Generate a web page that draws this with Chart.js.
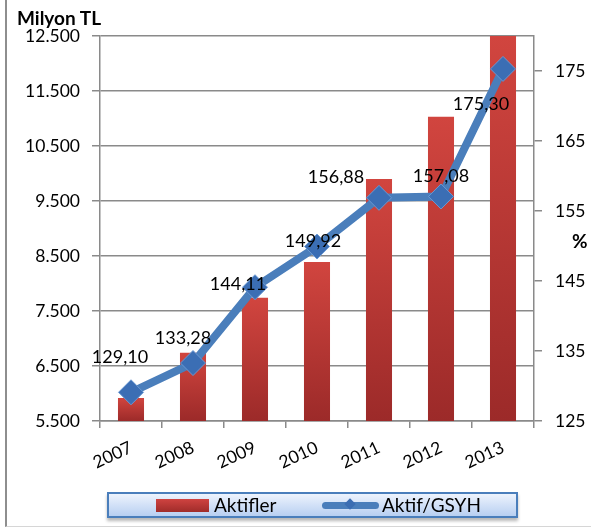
<!DOCTYPE html>
<html><head><meta charset="utf-8">
<script src="https://cdn.jsdelivr.net/npm/chart.js@4/dist/chart.umd.min.js"></script>
<style>
html,body{margin:0;padding:0;background:#fff;}
#wrap{position:relative;width:591px;height:528px;overflow:hidden;font-family:Lato,"Open Sans",sans-serif;}
#frame{position:absolute;left:5px;top:-2px;width:640px;height:529px;border-left:2px solid #8e8e8e;border-bottom:1px solid #d6d6d6;box-sizing:border-box;}
canvas{position:absolute;left:0;top:0;}
.t{position:absolute;font-weight:bold;color:#000;font-size:19px;line-height:1;white-space:nowrap;}
#legend{position:absolute;left:107px;top:492px;width:411px;height:26px;box-sizing:border-box;border:2px solid #4a7ebb;background:linear-gradient(#edf3fd,#b8cff1);box-shadow:0 3px 3px rgba(0,0,0,0.28);}
.lt{position:absolute;top:492px;height:26px;line-height:26px;font-size:19px;color:#000;white-space:nowrap;}
#sw1{position:absolute;left:156px;top:499px;width:53px;height:13px;background:linear-gradient(#cf4340,#a02c2a);}
#sw2{position:absolute;left:322px;top:502px;width:57px;height:7px;border-radius:4px;background:#4a7ebb;}
#sw2d{position:absolute;left:346px;top:500px;width:8px;height:8px;transform:rotate(45deg);background:#3b6db2;}
</style></head>
<body>
<div id="wrap">
  <div id="frame"></div>
  <canvas id="c" width="591" height="528"></canvas>
  <div class="t" style="left:17px;top:8px;">Milyon TL</div>
  <div class="t" style="left:572px;top:231px;">%</div>
  <div id="legend"></div>
  <div id="sw1"></div>
  <div class="lt" style="left:214px;">Aktifler</div>
  <div id="sw2"></div>
  <div id="sw2d"></div>
  <div class="lt" style="left:382px;">Aktif/GSYH</div>
</div>
<script>
const years = ['2007','2008','2009','2010','2011','2012','2013'];
const aktifler = [5920, 6740, 7740, 8390, 9900, 11030, 12800];
const aktifGsyh = [129.10, 133.28, 144.11, 149.92, 156.88, 157.08, 175.30];
const leftTicks = [5500, 6500, 7500, 8500, 9500, 10500, 11500, 12500];
const rightTicks = [125, 135, 145, 155, 165, 175];

const FONT = 'Lato, "Open Sans", sans-serif';
const GRID = '#8a8a8a';

function fmtThousands(v){ return String(v).replace(/\B(?=(\d{3})+(?!\d))/g, '.'); }
function fmtDec(v){ return v.toFixed(2).replace('.', ','); }

const valueLabels = {
  id: 'valueLabels',
  afterDatasetsDraw(chart, args, opts) {
    const meta = chart.getDatasetMeta(1);
    const ctx = chart.ctx;
    ctx.save();
    ctx.font = '18px ' + FONT;
    ctx.fillStyle = '#000';
    ctx.textAlign = 'center';
    ctx.textBaseline = 'middle';
    meta.data.forEach((pt, i) => {
      const off = opts.offsets[i] || [0, -20];
      ctx.fillText(fmtDec(aktifGsyh[i]), pt.x + off[0], pt.y + off[1]);
    });
    ctx.restore();
  }
};

function barGradient(context) {
  const chart = context.chart;
  const area = chart.chartArea;
  if (!area || context.type !== 'data') return '#c03a38';
  const y = chart.scales.y;
  const top = Math.max(area.top, y.getPixelForValue(context.raw));
  const g = chart.ctx.createLinearGradient(0, top, 0, area.bottom);
  g.addColorStop(0, '#d1453f');
  g.addColorStop(1, '#9c2a29');
  return g;
}

new Chart(document.getElementById('c'), {
  data: {
    labels: years,
    datasets: [
      {
        type: 'bar', label: 'Aktifler', data: aktifler, yAxisID: 'y', order: 1,
        backgroundColor: barGradient, borderWidth: 0,
        barPercentage: 0.42, categoryPercentage: 1
      },
      {
        type: 'line', label: 'Aktif/GSYH', data: aktifGsyh, yAxisID: 'y1', order: 0,
        borderColor: '#4a7ebb', borderWidth: 8, tension: 0,
        pointStyle: 'rectRot', pointRadius: 12.5, pointHoverRadius: 12.5,
        pointBackgroundColor: '#3b6eb4', pointBorderColor: '#6a98d2', pointBorderWidth: 1
      }
    ]
  },
  options: {
    responsive: false,
    animation: false,
    layout: { padding: { top: 36, left: 0, right: 0, bottom: 0 } },
    plugins: {
      legend: { display: false },
      tooltip: { enabled: false },
      valueLabels: { offsets: [[-11,-35],[-10,-25],[-17,-3],[-4,-5],[-43,-21],[0,-20],[-22,35]] }
    },
    scales: {
      x: {
        afterFit(s){ s.height = 107; },
        grid: { drawOnChartArea: false, color: GRID, lineWidth: 1.5, tickLength: 7, offset: true },
        border: { color: GRID, width: 1.5 },
        ticks: { minRotation: 25, maxRotation: 25, padding: 9, color: '#000', font: { family: FONT, size: 17.5 } }
      },
      y: {
        position: 'left', min: 5500, max: 12500,
        afterFit(s){ s.width = 100; },
        afterBuildTicks(s){ s.ticks = leftTicks.map(v => ({ value: v })); },
        grid: { color: GRID, lineWidth: 1.5, tickLength: 8 },
        border: { color: GRID, width: 1.5 },
        ticks: { padding: 12, color: '#000', font: { family: FONT, size: 17.5 }, callback: v => fmtThousands(v) }
      },
      y1: {
        position: 'right', min: 125, max: 180,
        afterFit(s){ s.width = 57; },
        afterBuildTicks(s){ s.ticks = rightTicks.map(v => ({ value: v })); },
        grid: { drawOnChartArea: false, color: GRID, lineWidth: 1.5, tickLength: 8 },
        border: { color: GRID, width: 1.5 },
        ticks: { padding: 13, color: '#000', font: { family: FONT, size: 17.5 } }
      }
    }
  },
  plugins: [valueLabels]
});
</script>
</body></html>
